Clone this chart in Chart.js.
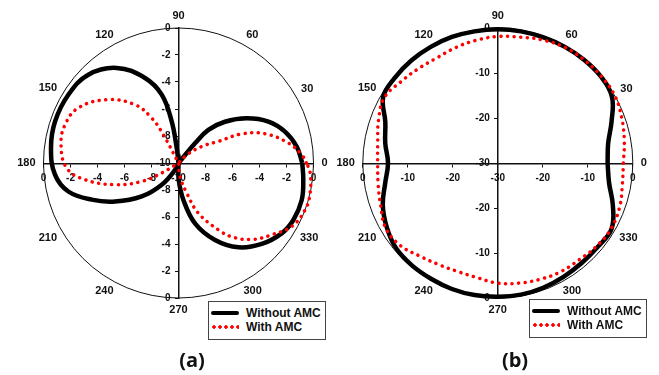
<!DOCTYPE html>
<html>
<head>
<meta charset="utf-8">
<script src="https://cdn.jsdelivr.net/npm/chart.js@4.4.0/dist/chart.umd.min.js"></script>
<style>
  html, body { margin: 0; padding: 0; background: #fff; }
  #page { position: relative; width: 659px; height: 375px; overflow: hidden; font-family: "Liberation Sans", Arial, sans-serif; }
  canvas { position: absolute; top: 0; }
  .legend {
    position: absolute; box-sizing: border-box; width: 118px; height: 39px;
    border: 1px solid #444; background: #fff; padding-top: 4px;
    font: bold 12px "Liberation Sans", Arial, sans-serif; color: #111;
  }
  .legend .row { position: relative; height: 14px; line-height: 14px; padding-left: 37px; white-space: nowrap; }
  .legend .swatch { position: absolute; left: 2px; top: 5px; width: 28px; height: 4px; }
  .legend .solid { background: #000; border-radius: 2px; }
  .legend .dotted { background: radial-gradient(circle, #ff0000 1.5px, transparent 2px) 0 0 / 6px 4px repeat-x; }
  .caption { position: absolute; top: 346px; width: 60px; text-align: center; font: bold 20px "Open Sans", sans-serif; color: #111; }
</style>
</head>
<body>
<div id="page">
  <canvas id="chartA" width="330" height="375" style="left:0"></canvas>
  <canvas id="chartB" width="329" height="375" style="left:330px"></canvas>

  <div class="legend" style="left:208px;top:301px">
    <div class="row"><span class="swatch solid"></span>Without AMC</div>
    <div class="row"><span class="swatch dotted"></span>With AMC</div>
  </div>
  <div class="legend" style="left:529px;top:299px">
    <div class="row"><span class="swatch solid"></span>Without AMC</div>
    <div class="row"><span class="swatch dotted"></span>With AMC</div>
  </div>

  <div class="caption" style="left:162px">(a)</div>
  <div class="caption" style="left:485px">(b)</div>
</div>

<script>
// (a) pattern: angle (deg, CCW from 0 at right) and dB (plot floor -10)
const aWithoutAngles = [0, 7.9, 16.4, 24.7, 33.2, 41.6, 47.9, 50, 60,
                        90, 96.8, 99.3, 103.8, 111.5, 123, 135.6, 148.2, 161.4, 173.3, 185.4, 194.5, 202.9, 211.2, 222.2, 232.3, 243.8, 250,
                        268, 270.7, 277.5, 285.3, 295.4, 305.4, 315.8, 325.7, 333.6, 343.3, 352.2, 360];
const aWithoutDb     = [-0.83, -1.16, -1.78, -2.67, -3.96, -5.4, -6.7, -8.1, -10,
                        -10, -8.88, -6.87, -4.79, -3.23, -1.6, -0.65, -0.4, -0.35, -0.49, -0.81, -1.57, -3.02, -4.5, -6.32, -7.97, -9.45, -10,
                        -10, -8.76, -7.26, -5.37, -3.69, -2.34, -1.4, -0.75, -0.5, -0.47, -0.67, -0.83];

const aWithAngles = [0, 3.9, 10.3, 18.7, 24.7, 28.5, 33, 38.9, 45.4, 55,
                     110, 118.2, 120.8, 126.7, 138.6, 151.2, 161.4, 171.1, 182.6, 190.1, 198.9, 206.6, 210.8, 218,
                     270, 276.4, 285.3, 291.6, 300.8, 306.5, 314.5, 322.4, 330.7, 339.7, 347.1, 356.3, 360];
const aWithDb     = [-0.53, -0.85, -1.73, -3.24, -4.85, -6.64, -7.5, -8.43, -9.3, -10,
                     -10, -7.62, -6.12, -4.61, -2.91, -1.53, -1.13, -1.19, -1.71, -2.96, -5.03, -6.95, -8.55, -10,
                     -10, -9.0, -7.7, -6.01, -4.24, -3.15, -2.07, -1.29, -0.39, 0, 0, -0.24, -0.53];

// (b) pattern every 10 deg, dB (plot floor -30)
const bAngles = [0, 10, 20, 30, 40, 50, 60, 70, 80, 90, 100, 110, 120, 130, 140, 150, 160, 170, 180,
                 190, 200, 210, 220, 230, 240, 250, 260, 270, 280, 290, 300, 310, 320, 330, 340, 350, 360];
const bWithoutDb = [-5.6, -5.1, -3.1, -0.7, -0.1, -0.1, -0.2, -0.3, -0.3, -0.3, -0.3, -0.2, -0.2, -0.2, -0.3, -0.6, -3.4, -4.6, -5.6,
                    -4.6, -2.8, -1.5, -0.5, -0.3, -0.3, -0.2, -0.2, -0.3, -0.3, -0.5, -0.8, -1.0, -1.0, -0.8, -2.8, -4.9, -5.6];
const bWithDb    = [-2.1, -1.45, -0.7, 0, 0, -0.1, -0.3, -0.9, -1.6, -1.9, -2.3, -2.7, -3.0, -2.6, -1.9, -0.9, -1.8, -2.9, -3.3,
                    -3.0, -2.3, -1.2, -1.6, -3.0, -3.9, -4.3, -4.1, -3.3, -2.9, -2.5, -2.1, -1.9, -1.3, -0.9, -1.2, -1.9, -2.1];

// axis settings
const aFloor = -10, aStep = 2;
const bFloor = -30, bStep = 10;
const angleLabels = [0, 30, 60, 90, 120, 150, 180, 210, 240, 270, 300, 330];
const seriesNames = ['Without AMC', 'With AMC'];

// polar (angle, dB) -> x/y in "dB above floor" units
function toXY(angleList, values, floor) {
    return angleList.map((a, i) => {
        const r = values[i] - floor;
        const rad = a * Math.PI / 180;
        return { x: r * Math.cos(rad), y: r * Math.sin(rad) };
    });
}

// outer circle and angle labels
const polarFrame = {
    id: 'polarFrame',
    beforeDatasetsDraw(chart) {
        const { ctx, scales: { x, y } } = chart;
        const cx = x.getPixelForValue(0);
        const cy = y.getPixelForValue(0);
        const r = x.getPixelForValue(x.max) - cx;
        ctx.save();
        ctx.beginPath();
        ctx.arc(cx, cy, r, 0, Math.PI * 2);
        ctx.lineWidth = 1;
        ctx.strokeStyle = '#111';
        ctx.stroke();

        ctx.font = 'bold 11px "Liberation Sans", Arial, sans-serif';
        ctx.fillStyle = '#111';
        ctx.textAlign = 'center';
        ctx.textBaseline = 'middle';
        angleLabels.forEach(a => {
            const t = String(a);
            const w = ctx.measureText(t).width;
            const rad = a * Math.PI / 180;
            const c = Math.cos(rad), s = Math.sin(rad);
            const d = r + 6 + c * c * (w / 2 + 2) + s * s * 6;
            ctx.fillText(t, cx + d * c, cy - d * s);
        });
        ctx.restore();
    }
};

// both ranges are symmetric, so 'center' puts each axis through the origin
function axis(span, step, horizontal) {
    return {
        type: 'linear',
        min: -span,
        max: span,
        position: 'center',
        ticks: {
            stepSize: step,
            autoSkip: false,
            maxRotation: 0,
            padding: horizontal ? 6 : 5,
            color: '#111',
            font: { family: '"Liberation Sans", Arial, sans-serif', size: 10, weight: 'bold' },
            callback: v => String(Math.abs(v) - span)
        },
        grid: { drawOnChartArea: false, tickLength: 3, color: '#111', lineWidth: 1 },
        border: { color: '#111', width: 1.5 }
    };
}

function createPolarChart(id, withoutPts, withPts, floor, step, padding) {
    const span = -floor;
    new Chart(document.getElementById(id), {
        type: 'scatter',
        data: {
            datasets: [
                {
                    label: seriesNames[0],
                    data: withoutPts,
                    showLine: true,
                    borderColor: '#000',
                    borderWidth: 4.5,
                    pointRadius: 0,
                    tension: 0.4,
                    fill: false,
                    clip: false,
                    order: 1
                },
                {
                    label: seriesNames[1],
                    data: withPts,
                    showLine: true,
                    borderColor: '#ff0000',
                    borderWidth: 3.5,
                    borderDash: [0.1, 6.5],
                    borderCapStyle: 'round',
                    pointRadius: 0,
                    tension: 0.4,
                    fill: false,
                    clip: false,
                    order: 0
                }
            ]
        },
        options: {
            responsive: false,
            animation: false,
            devicePixelRatio: 1,
            layout: { padding: padding },
            scales: {
                x: axis(span, step, true),
                y: axis(span, step, false)
            },
            plugins: {
                legend: { display: false },
                tooltip: { enabled: false }
            }
        },
        plugins: [polarFrame]
    });
}

createPolarChart('chartA',
    toXY(aWithoutAngles, aWithoutDb, aFloor), toXY(aWithAngles, aWithDb, aFloor),
    aFloor, aStep, { left: 43.5, right: 16.5, top: 28, bottom: 77 });
createPolarChart('chartB',
    toXY(bAngles, bWithoutDb, bFloor), toXY(bAngles, bWithDb, bFloor),
    bFloor, bStep, { left: 32.8, right: 26.2, top: 28, bottom: 77 });
</script>
</body>
</html>
